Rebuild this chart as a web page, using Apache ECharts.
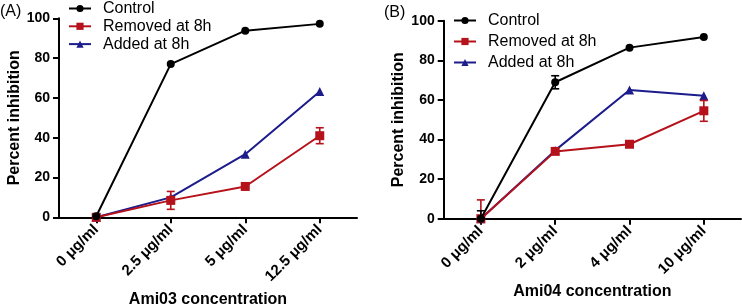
<!DOCTYPE html>
<html>
<head>
<meta charset="utf-8">
<script src="https://cdn.jsdelivr.net/npm/echarts@6/dist/echarts.min.js"></script>
<style>
html,body{margin:0;padding:0;background:#fff;}
#chart{width:742px;height:304px;}
</style>
</head>
<body>
<div id="chart"></div>
<script>
// 分类
var catsA = ['0 μg/ml', '2.5 μg/ml', '5 μg/ml', '12.5 μg/ml'];
var catsB = ['0 μg/ml', '2 μg/ml', '4 μg/ml', '10 μg/ml'];
var yTicks = [0, 20, 40, 60, 80, 100];

// (A) Ami03
var controlA = [0.5, 77, 93.8, 97.2];
var removedA = [0, 8.5, 15.5, 41];
var addedA = [0, 10, 31.7, 63.2];
// 误差 [分类, 低, 高]
var removedErrA = [[1, 4, 13], [3, 37, 45]];

// (B) Ami04
var controlB = [0, 68.9, 86.4, 91.8];
var removedB = [0, 34, 37.6, 54.5];
var addedB = [0, 34.5, 65, 62.1];
var controlErrB = [[0, 0, 4], [1, 65.6, 72.2]];
var removedErrB = [[0, 0, 9.5], [3, 49.2, 59.7]];

var names = ['Control', 'Removed at 8h', 'Added at 8h'];
var colors = ['#000000', '#b5121b', '#1c1c8c'];
var symbols = ['circle', 'rect', 'triangle'];
var sizes = [8, 9, 9];

var font = 'Liberation Sans, Arial, sans-serif';

function xAxisOf(idx, cats, title, gap){
	return {
		type:'category',
		gridIndex:idx,
		data:cats,
		boundaryGap:true,
		name:title,
		nameLocation:'middle',
		nameGap:gap,
		nameTextStyle:{color:'#000', fontSize:16, fontWeight:'bold', fontFamily:font},
		axisLine:{lineStyle:{color:'#000', width:2}},
		axisTick:{show:true, alignWithLabel:true, length:6, lineStyle:{color:'#000', width:2}},
		axisLabel:{rotate:45, margin:10, color:'#000', fontSize:15, fontWeight:'bold', fontFamily:font},
		splitLine:{show:false}
	};
}

function yAxisOf(idx, gap){
	return {
		type:'value',
		gridIndex:idx,
		min:yTicks[0],
		max:yTicks[yTicks.length - 1],
		interval:yTicks[1] - yTicks[0],
		name:'Percent inhibition',
		nameLocation:'middle',
		nameGap:gap,
		nameTextStyle:{color:'#000', fontSize:16, fontWeight:'bold', fontFamily:font},
		axisLine:{show:true, lineStyle:{color:'#000', width:2}},
		axisTick:{show:true, length:6, lineStyle:{color:'#000', width:2}},
		axisLabel:{margin:9, color:'#000', fontSize:14, fontWeight:'bold', fontFamily:font},
		splitLine:{show:false}
	};
}

function lineOf(i, idx, data){
	return {
		name:names[i],
		type:'line',
		xAxisIndex:idx,
		yAxisIndex:idx,
		data:data,
		symbol:symbols[i],
		symbolSize:sizes[i],
		showSymbol:true,
		itemStyle:{color:colors[i]},
		lineStyle:{color:colors[i], width:2},
		z:10 - i,
		animation:false
	};
}

function errOf(i, idx, data){
	return {
		type:'custom',
		xAxisIndex:idx,
		yAxisIndex:idx,
		data:data,
		z:11 - i,
		animation:false,
		renderItem:function(params, api){
			var lo = api.coord([api.value(0), api.value(1)]);
			var hi = api.coord([api.value(0), api.value(2)]);
			var w = 4;
			var st = {stroke:colors[i], lineWidth:1.6};
			return {
				type:'group',
				children:[
					{type:'line', shape:{x1:lo[0], y1:lo[1], x2:hi[0], y2:hi[1]}, style:st},
					{type:'line', shape:{x1:lo[0]-w, y1:lo[1], x2:lo[0]+w, y2:lo[1]}, style:st},
					{type:'line', shape:{x1:hi[0]-w, y1:hi[1], x2:hi[0]+w, y2:hi[1]}, style:st}
				]
			};
		}
	};
}

function legendOf(left, top, gap){
	return {
		data:names,
		orient:'vertical',
		left:left,
		top:top,
		padding:0,
		itemWidth:22,
		itemHeight:9,
		itemGap:gap,
		selectedMode:false,
		textStyle:{color:'#000', fontSize:16, fontFamily:font, lineHeight:16, padding:[0, 0, 0, 7]}
	};
}

var chart = echarts.init(document.getElementById('chart'));
var option = {
	backgroundColor:'#fff',
	animation:false,
	textStyle:{fontFamily:font},
	grid:[
		{left:59, top:18.3, width:298, height:199, containLabel:false, outerBoundsMode:'none'},
		{left:443.7, top:20.7, width:297.3, height:198, containLabel:false, outerBoundsMode:'none'}
	],
	xAxis:[
		xAxisOf(0, catsA, 'Ami03 concentration', 64),
		xAxisOf(1, catsB, 'Ami04 concentration', 64)
	],
	yAxis:[
		yAxisOf(0, 36),
		yAxisOf(1, 37)
	],
	legend:[
		legendOf(68, 0.5, 1.8),
		legendOf(453, 12.5, 5)
	],
	graphic:[
		{type:'text', left:0, top:4, style:{text:'(A)', fill:'#000', font:'16px ' + font}},
		{type:'text', left:384, top:5, style:{text:'(B)', fill:'#000', font:'16px ' + font}}
	],
	series:[
		lineOf(0, 0, controlA),
		lineOf(1, 0, removedA),
		lineOf(2, 0, addedA),
		errOf(1, 0, removedErrA),
		lineOf(0, 1, controlB),
		lineOf(1, 1, removedB),
		lineOf(2, 1, addedB),
		errOf(0, 1, controlErrB),
		errOf(1, 1, removedErrB)
	]
};
chart.setOption(option);
</script>
</body>
</html>
